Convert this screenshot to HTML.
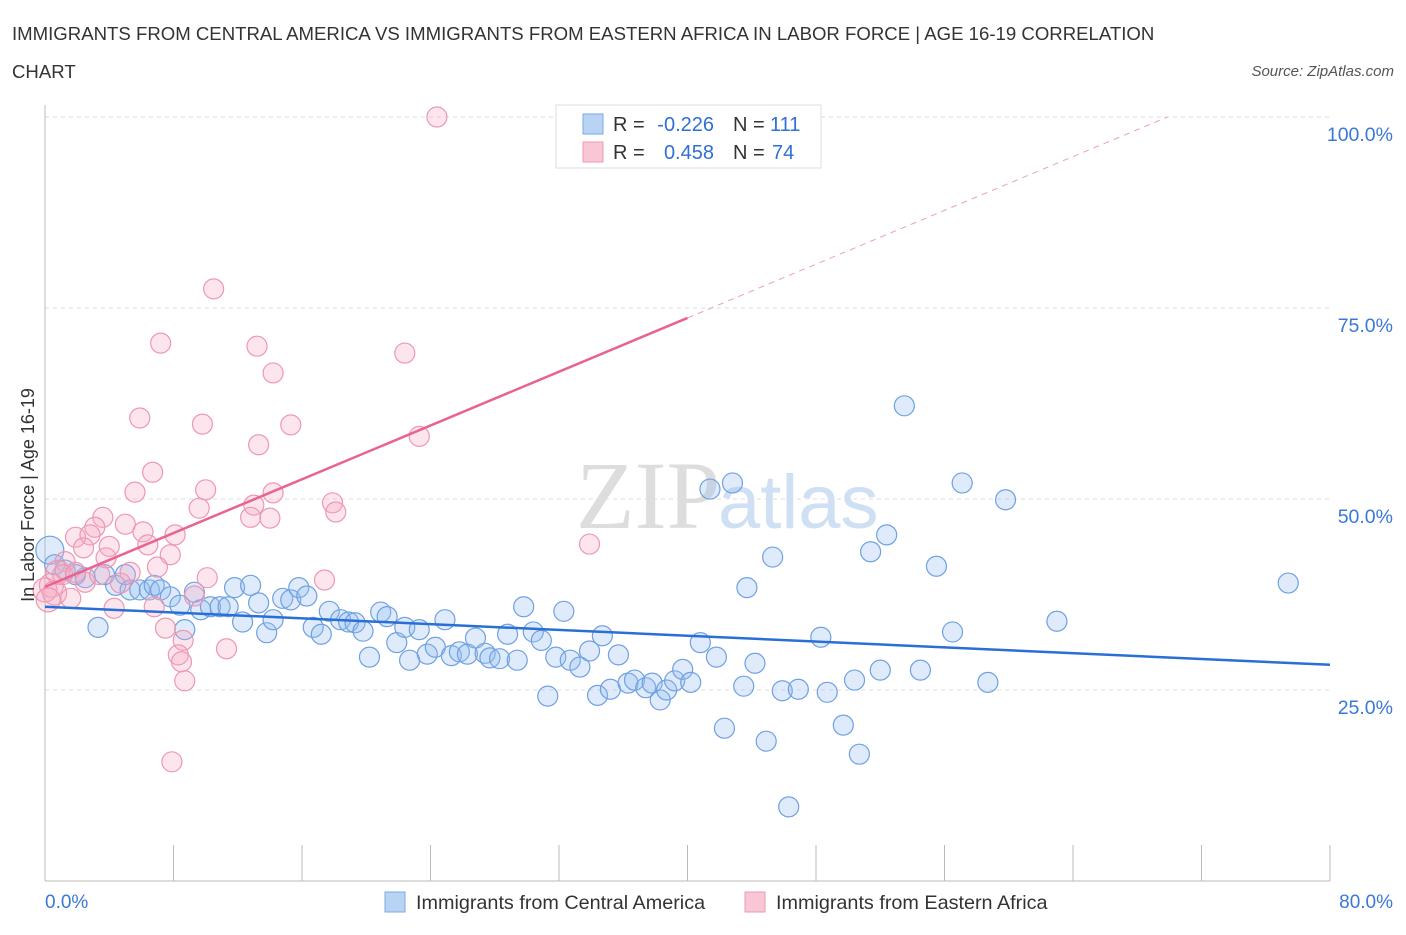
<!DOCTYPE html>
<html><head><meta charset="utf-8"><style>
body{margin:0;background:#fff;font-family:"Liberation Sans",sans-serif}
</style></head><body>
<svg id="c" width="1406" height="930" xmlns="http://www.w3.org/2000/svg">
<text x="12" y="40" font-size="18.6" fill="#333">IMMIGRANTS FROM CENTRAL AMERICA VS IMMIGRANTS FROM EASTERN AFRICA IN LABOR FORCE | AGE 16-19 CORRELATION</text>
<text x="12" y="78" font-size="18.6" fill="#333">CHART</text>
<text x="1394" y="76" font-size="15" fill="#555" font-style="italic" text-anchor="end">Source: ZipAtlas.com</text>
<text x="720" y="528" font-size="96" fill="#ddd" text-anchor="end" font-family="Liberation Serif">ZIP</text>
<text x="718" y="528" font-size="76" fill="#cfe0f5">atlas</text>
<g id="grid"></g><g id="pts"></g><g id="lines"></g>
<text transform="translate(34,495) rotate(-90)" font-size="18" fill="#333" text-anchor="middle">In Labor Force | Age 16-19</text>
<g>
<rect x="556" y="105" width="265" height="63" fill="#fff" stroke="#ddd"/>
<rect x="583" y="114" width="20" height="20" fill="#b9d3f5" stroke="#7aa8e6"/>
<rect x="583" y="142" width="20" height="20" fill="#f8c6d4" stroke="#ee9ab3"/>
<text x="613" y="131" font-size="20" fill="#333">R =</text>
<text x="714" y="131" font-size="20" fill="#2f6fd6" text-anchor="end">-0.226</text>
<text x="733" y="131" font-size="20" fill="#333">N =</text>
<text x="770" y="131" font-size="20" fill="#2f6fd6">111</text>
<text x="613" y="159" font-size="20" fill="#333">R =</text>
<text x="714" y="159" font-size="20" fill="#2f6fd6" text-anchor="end">0.458</text>
<text x="733" y="159" font-size="20" fill="#333">N =</text>
<text x="772" y="159" font-size="20" fill="#2f6fd6">74</text>
</g>
<g>
<rect x="385" y="892" width="20" height="20" fill="#b9d3f5" stroke="#7aa8e6"/>
<text x="416" y="909" font-size="19.8" fill="#333">Immigrants from Central America</text>
<rect x="745" y="892" width="20" height="20" fill="#f8c6d4" stroke="#ee9ab3"/>
<text x="776" y="909" font-size="19.8" fill="#333">Immigrants from Eastern Africa</text>
</g>
</svg>
<script>
const blueX=[0.3,0.6,1.25,1.9,2.5,3.3,3.7,4.4,5.0,5.3,5.9,6.5,6.8,7.2,7.8,8.4,8.7,9.3,9.7,10.3,10.9,11.4,11.8,12.3,12.8,13.3,13.8,14.2,14.8,15.3,15.8,16.3,16.7,17.2,17.7,18.4,18.9,19.3,19.8,20.2,20.9,21.3,21.9,22.4,22.7,23.3,23.8,24.3,24.9,25.3,25.8,26.3,26.8,27.4,27.7,28.3,28.8,29.4,29.8,30.4,30.9,31.3,31.8,32.3,32.7,33.3,33.9,34.4,34.7,35.2,35.7,36.3,36.7,37.4,37.8,38.3,38.7,39.2,39.7,40.2,40.8,41.4,41.8,42.3,42.8,43.5,43.7,44.2,44.9,45.3,45.9,46.3,46.9,48.3,48.7,49.7,50.4,50.7,51.4,52.0,52.4,53.5,54.5,55.5,56.5,57.1,58.7,59.8,63.0,77.4];
const blueY=[43.3,41.4,40.7,40.1,39.7,33.2,40.1,38.7,40.1,38.1,38.1,38.1,38.7,38.1,37.2,36.1,32.9,37.8,35.5,35.9,35.9,35.9,38.4,33.9,38.7,36.4,32.5,34.2,37.0,36.8,38.4,37.3,33.2,32.3,35.3,34.2,33.9,33.8,32.7,29.3,35.2,34.6,31.2,33.2,28.9,32.9,29.7,30.6,34.2,29.5,30.0,29.7,31.8,29.8,29.2,29.1,32.3,28.9,35.9,32.6,31.5,24.2,29.3,35.3,28.9,28.0,30.1,24.3,32.1,25.1,29.6,25.9,26.3,25.3,25.9,23.7,25.0,26.2,27.7,26.0,31.2,51.3,29.3,20.0,52.1,25.5,38.4,28.5,18.3,42.4,24.9,9.7,25.1,31.9,24.7,20.4,26.3,16.6,43.1,27.6,45.3,62.2,27.6,41.2,32.6,52.1,26.0,49.9,34.0,39.0];
const pinkX=[24.4,10.5,7.2,13.2,22.4,14.2,5.9,9.8,15.3,23.3,13.3,6.7,5.6,10.0,14.2,17.9,13.0,9.6,18.1,12.8,14.0,3.6,3.1,5.0,6.1,8.1,1.9,2.8,2.4,4.0,6.4,7.8,33.9,1.25,3.8,7.0,0.8,5.3,10.1,17.4,4.7,2.5,0.4,0,0.6,1.6,4.3,6.8,9.3,7.5,8.6,11.3,8.3,8.5,8.7,7.9,0.2,1.1,1.9,3.4];
const pinkY=[100,77.5,70.4,70.0,69.1,66.5,60.6,59.8,59.7,58.2,57.1,53.5,50.9,51.2,50.8,49.5,49.2,48.8,48.3,47.6,47.5,47.6,46.3,46.7,45.7,45.3,45.0,45.3,43.6,43.8,44.0,42.7,44.1,41.8,42.3,41.1,40.4,40.4,39.7,39.4,39.0,39.1,38.7,38.1,37.7,37.0,35.7,35.9,37.3,33.1,31.5,30.4,29.6,28.7,26.2,15.6,36.8,40.1,40.4,40.1];
const yTicks=[25,50,75,100];
const xTicks=[0,8,16,24,32,40,48,56,64,72,80];
const blueFit=[35.9,28.3];
const pinkFit=[38.5,73.7]; // at x=0 and x=40
const X=v=>45+v*(1285/80), Y=v=>881-v*7.64;
const NS="http://www.w3.org/2000/svg";
function mk(tag,attrs,parent){const e=document.createElementNS(NS,tag);for(const k in attrs)e.setAttribute(k,attrs[k]);parent.appendChild(e);return e;}
const grid=document.getElementById('grid'),pts=document.getElementById('pts'),lines=document.getElementById('lines'),svg=document.getElementById('c');
yTicks.forEach(t=>{
 const l=mk('line',{x1:45,x2:1330,y1:Y(t),y2:Y(t),stroke:'#ddd','stroke-dasharray':'4,4'},grid);
 
 
 const tx=mk('text',{x:1393,y:Y(t)+24,'font-size':19.5,fill:'#3a78d8','text-anchor':'end'},svg);
 tx.textContent=t.toFixed(1)+'%';
 
 
});
const ax=mk('line',{x1:45,x2:1330,y1:881,y2:881,stroke:'#bbb'},grid);


const ay=mk('line',{x1:45,x2:45,y1:105,y2:881,stroke:'#bbb'},grid);


xTicks.forEach(t=>{
 const l=mk('line',{x1:X(t),x2:X(t),y1:845,y2:881,stroke:'#bbb'},grid);
 
 
});
[[0,'0.0%','start',45],[80,'80.0%','end',1393]].forEach(a=>{
 const tx=mk('text',{x:a[3],y:908,'font-size':19,fill:'#3a78d8','text-anchor':a[2]},svg);
 tx.textContent=a[1];
 
 
});
blueX.forEach((x,i)=>{
 const c=mk('circle',{cx:X(x),cy:Y(blueY[i]),r:i==0?14:10,fill:'rgba(150,190,240,0.3)',stroke:'#6ea0e3','stroke-width':1.2},pts);
 
 
});
pinkX.forEach((x,i)=>{
 const c=mk('circle',{cx:X(x),cy:Y(pinkY[i]),r:(x<1)?12:10,fill:'rgba(245,170,195,0.3)',stroke:'#ee97b0','stroke-width':1.2},pts);
 
 
});
const bl=mk('line',{x1:X(0),y1:Y(blueFit[0]),x2:X(80),y2:Y(blueFit[1]),stroke:'#2a6fd6','stroke-width':2.5},lines);


const slope=(pinkFit[1]-pinkFit[0])/40, xEnd=(100-pinkFit[0])/slope;
const pl=mk('line',{x1:X(0),y1:Y(pinkFit[0]),x2:X(40),y2:Y(pinkFit[1]),stroke:'#e8638f','stroke-width':2.5},lines);


const pd=mk('line',{x1:X(40),y1:Y(pinkFit[1]),x2:X(xEnd),y2:Y(100),stroke:'#eaa0b8','stroke-width':1,'stroke-dasharray':'6,5'},lines);


</script>
</body></html>
